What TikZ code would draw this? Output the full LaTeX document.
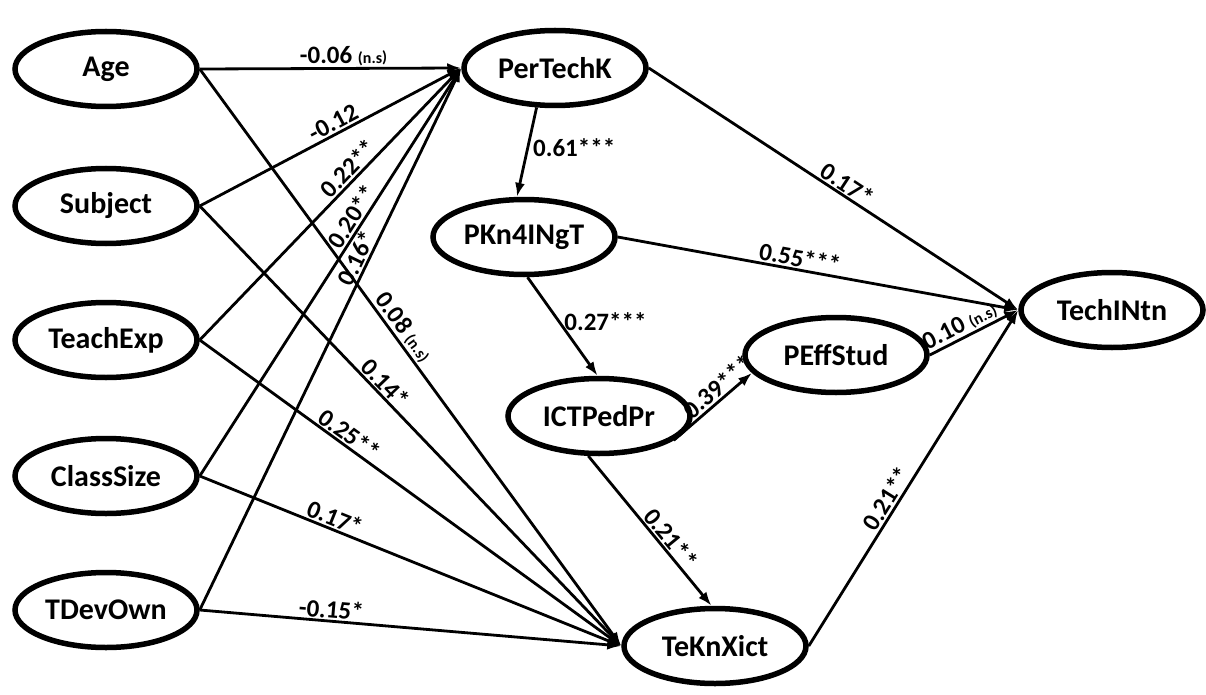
\documentclass[tikz,border=0pt]{standalone}
\usepackage{fontspec}
\setmainfont{Carlito}
\usetikzlibrary{shapes.geometric,arrows.meta}
\newcommand{\nsx}{{\fontsize{16}{18}\selectfont(n.s)}}
\begin{document}
\begin{tikzpicture}[x=1pt,y=-1pt,
  var/.style={ellipse,draw,line width=5.5pt,minimum width=182pt,minimum height=75pt,inner sep=0pt,font=\fontsize{30}{32}\selectfont\bfseries},
  conn/.style={line width=2.8pt,-{Latex[length=14pt,width=10pt]}},
  lab/.style={font=\fontsize{25}{27}\selectfont\bfseries,sloped,above,inner sep=1.5pt},
  hlab/.style={font=\fontsize{25}{27}\selectfont\bfseries,right,inner sep=4pt}
]
\useasboundingbox (0,0) rectangle (1206,695);
\node[var] (Age) at (106,69) {Age};
\node[var] (Subject) at (106,206) {Subject};
\node[var] (TeachExp) at (106,340) {TeachExp};
\node[var] (ClassSize) at (106,476) {ClassSize};
\node[var] (TDevOwn) at (106,610) {TDevOwn};
\node[var] (PerTechK) at (555,68) {PerTechK};
\node[var] (PKn) at (524,237) {PKn4INgT};
\node[var] (ICT) at (599,416) {ICTPedPr};
\node[var] (PEff) at (836,355) {PEffStud};
\node[var] (TechINtn) at (1112,310) {TechINtn};
\node[var] (TeKn) at (715,646) {TeKnXict};

% to PerTechK
\draw[conn] (Age.east) -- node[lab,pos=.55]{-0.06 \nsx} (PerTechK.west);
\draw[conn] (Subject.east) -- node[lab,pos=.53]{-0.12} (PerTechK.west);
\draw[conn] (TeachExp.east) -- node[lab,pos=.6]{0.22**} (PerTechK.west);
\draw[conn] (ClassSize.east) -- node[lab,pos=.62]{0.20**} (PerTechK.west);
\draw[conn] (TDevOwn.east) -- node[lab,pos=.64]{0.16*} (PerTechK.west);
% to TeKnXict
\draw[conn] (Age.east) -- node[lab,pos=.46]{0.08 \nsx} (TeKn.west);
\draw[conn] (Subject.east) -- node[lab,pos=.42]{0.14*} (TeKn.west);
\draw[conn] (TeachExp.east) -- node[lab,pos=.34]{0.25**} (TeKn.west);
\draw[conn] (ClassSize.east) -- node[lab,pos=.31]{0.17*} (TeKn.west);
\draw[conn] (TDevOwn.east) -- node[lab,pos=.31]{-0.15*} (TeKn.west);
% middle
\draw[conn] (PerTechK.-115) -- node[hlab,pos=.45]{0.61***} (PKn.100);
\draw[conn] (PKn.-85) -- node[hlab,pos=.45]{0.27***} (ICT.92);
\draw[conn] (ICT.-18) -- node[lab,pos=.66]{0.39***} (PEff.192);
\draw[conn] (ICT.-105) -- node[lab,pos=.6]{0.21**} (TeKn.95);
% to TechINtn
\draw[conn] (PerTechK.east) -- node[lab,pos=.52]{0.17*} (TechINtn.west);
\draw[conn] (PKn.east) -- node[lab,pos=.45]{0.55***} (TechINtn.west);
\draw[conn] (PEff.east) -- node[lab,pos=.4]{0.10 \nsx} (TechINtn.west);
\draw[conn] (TeKn.east) -- node[lab,pos=.42]{0.21**} (TechINtn.west);
\end{tikzpicture}
\end{document}
